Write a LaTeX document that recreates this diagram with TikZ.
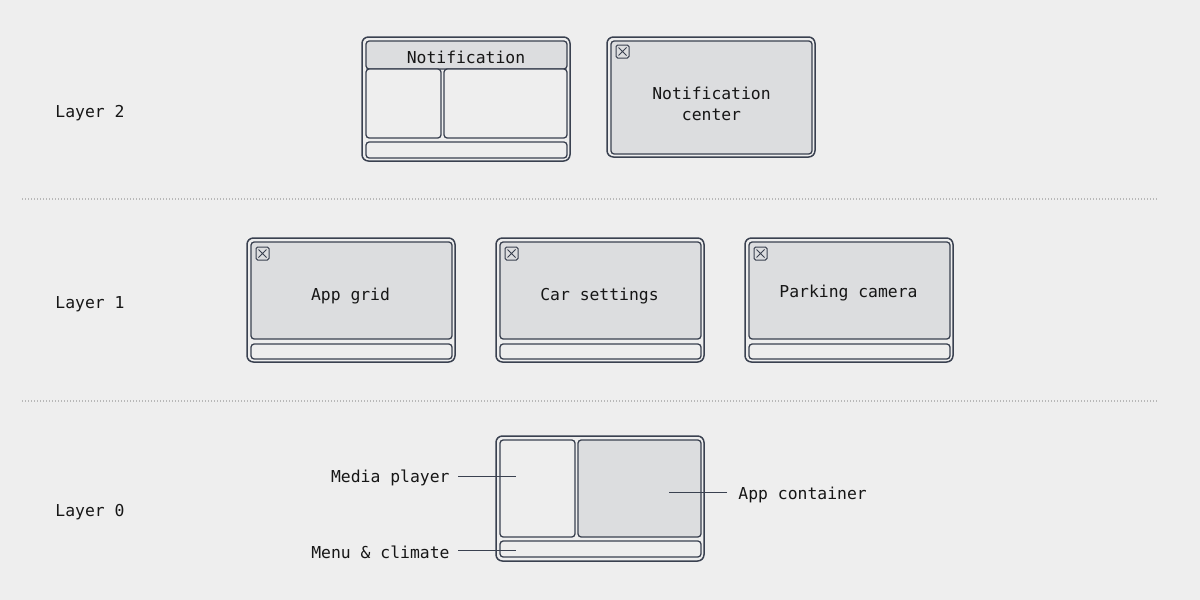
\documentclass[tikz,border=0pt]{standalone}
\usepackage{fontspec}
\setmonofont{DejaVu Sans Mono}
\definecolor{bg}{HTML}{EEEEEE}
\definecolor{ink}{HTML}{3A4150}
\definecolor{panel}{HTML}{DCDDDF}
\definecolor{txt}{HTML}{161616}
\definecolor{sep}{HTML}{B8B8B8}
\tikzset{
  outerbox/.style={draw=ink, line width=0.75pt, rounded corners=3.2pt, fill=bg},
  innerbox/.style={draw=ink, line width=0.65pt, rounded corners=1.6pt, fill=bg},
  graybox/.style={draw=ink, line width=0.65pt, rounded corners=1.6pt, fill=panel},
  lbl/.style={text=txt, font=\ttfamily\fontsize{8.2}{10.5}\selectfont, inner sep=0pt},
  leader/.style={draw=ink, line width=0.45pt},
  sepline/.style={draw=sep, line width=0.6pt, dash pattern=on 0.6pt off 0.9pt},
  closebox/.style={draw=ink, line width=0.5pt, rounded corners=0.8pt, fill=panel}
}
\newcommand{\closeicon}[2]{%
  \draw[closebox] (#1,#2) rectangle ++(13,13);
  \draw[ink, line width=0.5pt] (#1+2.5,#2+2.5) -- ++(8,8) (#1+10.5,#2+2.5) -- ++(-8,8);
}
\newcommand{\appwin}[1]{% x
  \draw[outerbox] (#1,238) rectangle ++(208,124);
  \draw[graybox] (#1+4,242) rectangle ++(201,97);
  \draw[innerbox] (#1+4,344) rectangle ++(201,15);
  \closeicon{#1+9}{247}
}
\begin{document}
\begin{tikzpicture}[x=0.5pt,y=-0.5pt]
\fill[bg] (0,0) rectangle (1200,600);
\useasboundingbox (0,0) rectangle (1200,600);

% separators
\coordinate (s1a) at (22,199); \coordinate (s1b) at (1157,199);
\coordinate (s2a) at (22,401); \coordinate (s2b) at (1157,401);
\draw[sepline] (s1a) -- (s1b);
\draw[sepline] (s2a) -- (s2b);

% layer labels
\node[lbl, anchor=west] (L2) at (55,113) {Layer 2};
\node[lbl, anchor=west] (L1) at (55,304) {Layer 1};
\node[lbl, anchor=west] (L0) at (55,512) {Layer 0};

% Layer 2: Notification
\draw[outerbox] (362,37) rectangle (570,161);
\draw[graybox] (366,41) rectangle (567,69);
\draw[innerbox] (366,69) rectangle (441,138);
\draw[innerbox] (444,69) rectangle (567,138);
\draw[innerbox] (366,142) rectangle (567,158);
\node[lbl] (notif) at (466,57) {Notification};

% Layer 2: Notification center
\draw[outerbox] (607,37) rectangle (815,157);
\draw[graybox] (611,41) rectangle (812,154);
\closeicon{616}{45}
\node[lbl, align=center] (nc) at (711.5,103.5) {Notification\\center};

% Layer 1
\appwin{247}
\node[lbl] (appgrid) at (350.5,296.5) {App grid};
\appwin{496}
\node[lbl] (carset) at (599.5,296.5) {Car settings};
\appwin{745}
\node[lbl] (park) at (848.5,293.5) {Parking camera};

% Layer 0
\draw[outerbox] (496,436) rectangle (704,561);
\draw[innerbox] (500,440) rectangle (575,537);
\draw[graybox] (578,440) rectangle (701,537);
\draw[innerbox] (500,541) rectangle (701,557);

\node[lbl, anchor=east] (media) at (450,477.5) {Media player};
\node[lbl, anchor=east] (menu) at (450,552) {Menu \& climate};
\node[lbl, anchor=west] (appc) at (738,494.5) {App container};
\coordinate (mediaEnd) at (516,476);
\coordinate (menuEnd) at (516,550.5);
\coordinate (appcEnd) at (669,492.5);
\draw[leader] (mediaEnd -| media.east) ++(8,0) -- (mediaEnd);
\draw[leader] (menuEnd -| menu.east) ++(8,0) -- (menuEnd);
\draw[leader] (appcEnd -| appc.west) ++(-11,0) -- (appcEnd);
\end{tikzpicture}
\end{document}
